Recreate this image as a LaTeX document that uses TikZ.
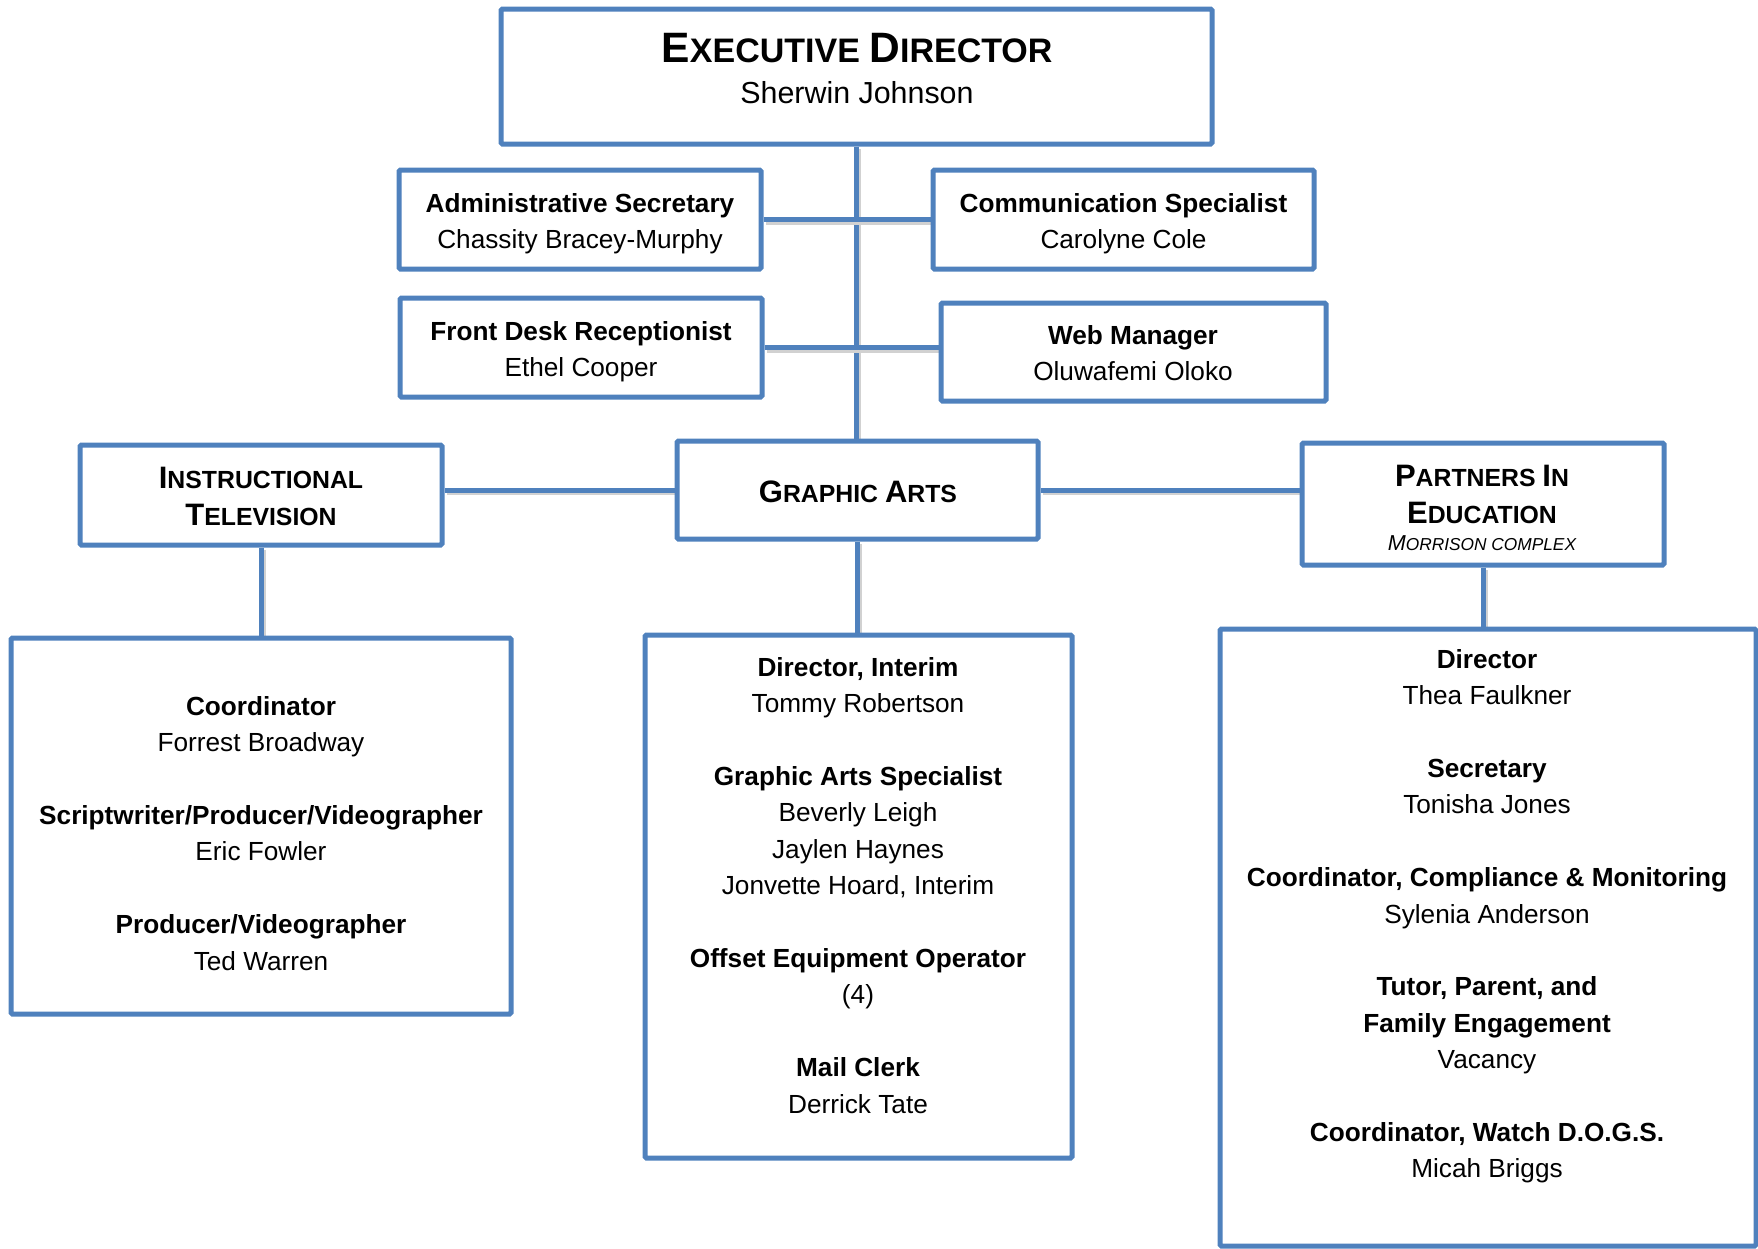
\documentclass[tikz,border=0pt]{standalone}
\usepackage{fontspec}
\setmainfont{Liberation Sans}
\usetikzlibrary{backgrounds}
\definecolor{ob}{HTML}{4F81BD}
\newcommand{\ebig}[1]{{\fontsize{42.5}{50}\selectfont #1}}
\newcommand{\esm}[1]{{\fontsize{34}{50}\selectfont #1}}
\newcommand{\hbig}[1]{{\fontsize{31}{37}\selectfont #1}}
\newcommand{\hsm}[1]{{\fontsize{24.8}{37}\selectfont #1}}
\newcommand{\ibig}[1]{{\fontsize{21.6}{26}\selectfont #1}}
\newcommand{\ism}[1]{{\fontsize{17.3}{26}\selectfont #1}}
\begin{document}
\begin{tikzpicture}[x=1pt,y=-1pt,
  box/.style n args={2}{draw=ob, line width=5pt, rounded corners=1.5pt, fill=white,
    rectangle, inner sep=0pt, minimum width=#1, minimum height=#2},
  conn/.style={draw=ob, line width=5pt,
    preaction={draw=black!18, line width=5pt, transform canvas={shift={(2pt,-2.5pt)}}}},
  tx/.style={inner sep=0pt, align=center, font=\fontsize{26.2}{36.4}\selectfont},
  hd/.style={inner sep=0pt, anchor=base, font=\bfseries\fontsize{24.8}{37}\selectfont},
  gap/.style={}]
\useasboundingbox (0,0) rectangle (1758,1248);

% boxes
\node[box={711pt}{135pt}] (exec) at (856.5,76.5) {};
\node[box={362pt}{99pt}] (admin) at (580,219.5) {};
\node[box={381pt}{99pt}] (comm) at (1123.5,219.5) {};
\node[box={362pt}{99pt}] (front) at (581,347.5) {};
\node[box={385pt}{98pt}] (web) at (1133.5,352) {};
\node[box={362pt}{100pt}] (itv) at (261,495) {};
\node[box={361pt}{98pt}] (ga) at (857.5,490) {};
\node[box={362pt}{122pt}] (pie) at (1483,504) {};
\node[box={500pt}{376pt}] (itvd) at (261,826) {};
\node[box={427pt}{523pt}] (gad) at (858.5,896.5) {};
\node[box={536pt}{617pt}] (pied) at (1488,937.5) {};

% connectors
\begin{scope}[on background layer]
\draw[conn] (exec.south) -- (exec.south |- ga.north);
\draw[conn] (admin.east) -- (admin.east -| comm.west);
\draw[conn] (front.east) -- (front.east -| web.west);
\draw[conn] (ga.west) -- (ga.west -| itv.east);
\draw[conn] (ga.east) -- (ga.east -| pie.west);
\draw[conn] (itv.south) -- (itv.south |- itvd.north);
\draw[conn] (ga.south) -- (ga.south |- gad.north);
\draw[conn] (pie.south) -- (pie.south |- pied.north);
\end{scope}

% texts
\node[hd, font=\bfseries\fontsize{34}{50}\selectfont] (t-exec) at (857,62) {\ebig{E}\esm{XECUTIVE} \ebig{D}\esm{IRECTOR}};
\node[inner sep=0pt, anchor=base, font=\fontsize{30.4}{36}\selectfont] (t-execn) at (857,103) {Sherwin Johnson};

\node[tx, anchor=north] (t-admin) at (580,193) {\textbf{Administrative Secretary}\\Chassity Bracey-Murphy};
\node[tx, anchor=north] (t-comm) at (1123.5,193) {\textbf{Communication Specialist}\\Carolyne Cole};
\node[tx, anchor=north] (t-front) at (581,321) {\textbf{Front Desk Receptionist}\\Ethel Cooper};
\node[tx, anchor=north] (t-web) at (1133,325) {\textbf{Web Manager}\\Oluwafemi Oloko};

\node[hd] (t-itv1) at (261,488) {\hbig{I}\hsm{NSTRUCTIONAL}};
\node[hd] (t-itv2) at (261,525) {\hbig{T}\hsm{ELEVISION}};
\node[hd] (t-ga) at (858,502) {\hbig{G}\hsm{RAPHIC} \hbig{A}\hsm{RTS}};
\node[hd] (t-pie1) at (1482,486) {\hbig{P}\hsm{ARTNERS} \hbig{I}\hsm{N}};
\node[hd] (t-pie2) at (1482,523) {\hbig{E}\hsm{DUCATION}};
\node[inner sep=0pt, anchor=base, font=\itshape\fontsize{17.3}{26}\selectfont] (t-pie3) at (1482,550) {\ibig{M}\ism{ORRISON COMPLEX}};

\node[tx, anchor=north] (t-itvd) at (261,696) {\textbf{Coordinator}\\Forrest Broadway\\[36.4pt]
\textbf{Scriptwriter/Producer/Videographer}\\Eric Fowler\\[36.4pt]
\textbf{Producer/Videographer}\\Ted Warren};
\node[tx, anchor=north] (t-gad) at (858,657) {\textbf{Director, Interim}\\Tommy Robertson\\[36.4pt]
\textbf{Graphic Arts Specialist}\\Beverly Leigh\\Jaylen Haynes\\Jonvette Hoard, Interim\\[36.4pt]
\textbf{Offset Equipment Operator}\\(4)\\[36.4pt]
\textbf{Mail Clerk}\\Derrick Tate};
\node[tx, anchor=north] (t-pied) at (1487,649) {\textbf{Director}\\Thea Faulkner\\[36.4pt]
\textbf{Secretary}\\Tonisha Jones\\[36.4pt]
\textbf{Coordinator, Compliance \& Monitoring}\\Sylenia Anderson\\[36.4pt]
\textbf{Tutor, Parent, and}\\\textbf{Family Engagement}\\Vacancy\\[36.4pt]
\textbf{Coordinator, Watch D.O.G.S.}\\Micah Briggs};
\end{tikzpicture}
\end{document}
